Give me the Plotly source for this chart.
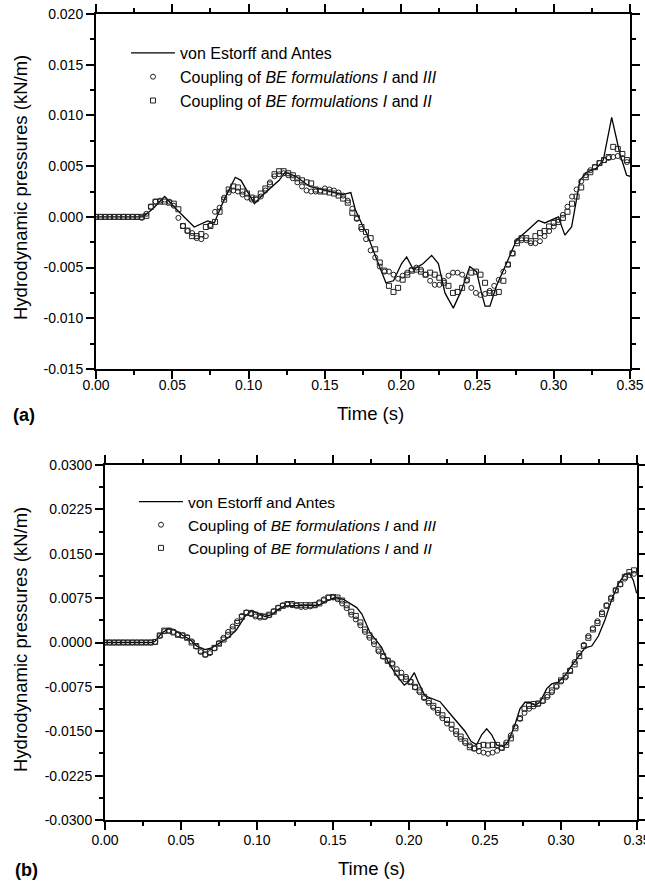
import plotly.graph_objects as go

W, H = 645, 883
FONT = "Liberation Sans, Arial, sans-serif"

# sample times of the BE solutions (s)
T = [round(0.003 * i, 3) for i in range(117)]

# panel (a), pressures in 1e-3 kN/m
TOP_CIRCLES_E3 = [
    0, 0, 0, 0, 0, 0, 0, 0, 0, 0, -0.1, 0.3, 1.0, 1.5, 1.6, 1.7, 1.5, 1.1, -0.1, -0.9,
    -1.4, -1.6, -2.1, -2.2, -1.9, -0.8, 0.5, 0.9, 1.9, 2.4, 2.6, 2.5, 2.2, 1.9, 1.7, 1.7,
    2.0, 2.6, 3.4, 4.0, 4.2, 4.3, 4.1, 3.8, 3.4, 3.0, 2.6, 2.5, 2.5, 2.6, 2.8, 2.7, 2.6,
    2.4, 2.1, 1.6, 0.8, -0.2, -1.2, -2.2, -3.3, -4.0, -4.9, -5.4, -5.4, -5.7, -6.1, -5.8,
    -5.5, -5.2, -5.0, -5.2, -5.7, -6.3, -6.7, -6.7, -6.3, -5.8, -5.5, -5.5, -5.7, -6.3,
    -7.0, -7.5, -7.7, -7.6, -7.3, -6.8, -6.2, -5.4, -4.7, -3.6, -2.4, -2.3, -2.3, -2.6,
    -2.6, -2.4, -1.9, -1.4, -0.95, -0.3, 0.2, 1.0, 2.0, 2.7, 3.5, 4.1, 4.6, 4.9, 5.3, 5.6,
    5.8, 5.9, 6.0, 5.8, 5.4,
]
TOP_SQUARES_E3 = [
    0, 0, 0, 0, 0, 0, 0, 0, 0, 0, 0, 0.1, 1.0, 1.5, 1.5, 1.5, 1.4, 1.3, 0.75, -0.9,
    -1.35, -1.9, -1.9, -1.7, -1.0, -0.9, -0.5, 0.5, 1.7, 2.7, 3.0, 2.9, 2.5, 2.3, 1.9, 1.8,
    2.3, 2.8, 3.2, 4.2, 4.5, 4.5, 4.3, 4.1, 3.8, 3.6, 3.4, 3.3, 2.7, 2.5, 2.5, 2.4, 2.3,
    2.1, 1.8, 1.4, 0.4, -0.1, -1.0, -1.5, -2.1, -3.2, -4.5, -5.3, -6.8, -7.4, -7.0, -6.2,
    -5.7, -5.3, -5.2, -5.4, -5.7, -5.5, -5.7, -6.0, -6.5, -6.8, -7.5, -7.4, -7.0, -6.2,
    -5.5, -5.4, -5.7, -6.5, -7.5, -7.5, -7.4, -6.3, -4.7, -3.6, -2.6, -2.1, -2.1, -2.4,
    -1.9, -1.6, -1.4, -0.95, -0.6, -0.5, -0.1, 0.5, 1.3, 2.0, 2.9, 3.9, 4.4, 4.9, 5.3, 5.6,
    5.9, 6.9, 6.7, 6.2, 5.6,
]
TOP_REF_T = [
    0.0, 0.031, 0.0376, 0.045, 0.052, 0.0644, 0.0732, 0.0775, 0.084, 0.0913, 0.095, 0.1038,
    0.109, 0.120, 0.124, 0.131, 0.140, 0.153, 0.1616, 0.167, 0.170, 0.175, 0.1774, 0.184,
    0.190, 0.195, 0.2003, 0.2036, 0.208, 0.2145, 0.220, 0.2244, 0.2287, 0.2342, 0.2396,
    0.245, 0.2494, 0.2527, 0.255, 0.2582, 0.2625, 0.269, 0.2757, 0.282, 0.2899, 0.2942,
    0.303, 0.3073, 0.3117, 0.3172, 0.3216, 0.3281, 0.3325, 0.338, 0.3434, 0.3478, 0.35,
]
TOP_REF_E3 = [
    0, 0, 0.85, 2.0, 0.85, -1.0, -0.4, -0.6, 1.7, 3.9, 3.6, 1.3,
    2.1, 3.6, 4.4, 4.0, 3.0, 2.5, 2.2, 2.4, 0.7, -0.95, -1.6, -4.2,
    -6.5, -6.3, -4.6, -3.95, -5.2, -4.6, -3.8, -4.6, -7.5, -9.0, -7.2,
    -4.9, -5.4, -7.5, -8.8, -8.8, -6.8, -4.6, -2.25, -1.45, -0.35, -0.6,
    0.0, -1.8, -1.0, 3.6, 4.4, 4.8, 5.6, 9.8, 6.2, 4.1, 4.0,
]

# panel (b), pressures in 1e-3 kN/m
BOT_CIRCLES_E3 = [
    0, 0, 0, 0, 0, 0, 0, 0, 0, 0, 0, 0.1, 1.1, 1.9, 2.0, 1.8, 1.4, 1.2, 0.9, 0.2,
    -0.7, -1.6, -2.1, -1.8, -1.0, -0.1, 0.8, 1.8, 2.7, 3.6, 4.5, 5.1, 4.8, 4.4, 4.2, 4.3,
    4.6, 5.3, 5.9, 6.3, 6.4, 6.3, 6.2, 6.0, 6.0, 6.1, 6.4, 6.8, 7.3, 7.6, 7.6, 7.3, 6.6,
    5.8, 4.7, 3.9, 2.9, 1.8, 0.8, -0.3, -1.5, -2.4, -3.0, -3.5, -4.5, -5.1, -5.8, -6.6,
    -7.6, -8.4, -9.4, -10.2, -11.0, -11.9, -12.8, -13.7, -14.6, -15.5, -16.3, -17.0,
    -17.4, -17.9, -18.4, -18.6, -18.8, -18.6, -18.3, -17.8, -16.9, -15.7, -14.2, -12.9,
    -11.9, -11.2, -10.8, -10.4, -9.9, -9.2, -8.4, -7.5, -6.6, -5.9, -4.7, -3.3, -1.8,
    -0.4, 1.1, 2.4, 3.6, 5.1, 6.3, 7.6, 8.8, 9.8, 10.8, 11.4, 11.6,
]
BOT_SQUARES_E3 = [
    0, 0, 0, 0, 0, 0, 0, 0, 0, 0, 0, 0.1, 1.2, 2.0, 2.0, 1.7, 1.3, 1.2, 0.8, 0.0,
    -0.6, -1.4, -2.0, -1.6, -0.9, -0.2, 0.5, 1.3, 2.2, 3.3, 4.3, 5.0, 5.0, 4.7, 4.5, 4.4,
    4.7, 5.2, 5.8, 6.2, 6.5, 6.5, 6.3, 6.3, 6.3, 6.3, 6.3, 6.6, 7.1, 7.6, 7.7, 7.6, 7.1,
    6.3, 5.2, 4.5, 3.4, 2.2, 1.2, 0.2, -1.2, -2.3, -3.1, -3.7, -5.1, -5.9, -6.2, -6.7,
    -7.5, -8.1, -9.2, -9.9, -10.7, -11.4, -12.3, -13.1, -13.9, -15.0, -15.9, -16.7,
    -17.7, -17.9, -17.5, -17.3, -17.4, -17.3, -17.3, -17.8, -17.3, -16.2, -14.5, -12.8,
    -11.2, -10.7, -10.4, -10.3, -9.8, -8.9, -8.1, -7.3, -6.4, -5.6, -4.8, -3.7, -2.3,
    -0.6, 0.8, 2.2, 3.3, 4.8, 6.2, 7.4, 8.8, 9.9, 11.1, 11.9, 12.2,
]
BOT_REF_T = [
    0.0, 0.031, 0.0329, 0.0373, 0.0417, 0.045, 0.0504, 0.0559, 0.0603, 0.0658, 0.0702,
    0.0757, 0.0811, 0.0866, 0.0921, 0.0965, 0.1009, 0.1053, 0.1096, 0.114, 0.1184, 0.125,
    0.1338, 0.1404, 0.1458, 0.1513, 0.1568, 0.1612, 0.1656, 0.169, 0.1711, 0.1743, 0.1776,
    0.182, 0.1864, 0.1919, 0.1969, 0.1996, 0.2035, 0.2061, 0.2105, 0.216, 0.2204, 0.2259,
    0.2325, 0.2368, 0.2408, 0.2445, 0.2478, 0.2511, 0.2544, 0.2577, 0.2621, 0.2654,
    0.2697, 0.273, 0.2763, 0.2796, 0.2829, 0.2862, 0.2906, 0.2939, 0.2982, 0.3026, 0.307,
    0.3114, 0.3158, 0.3202, 0.3246, 0.3289, 0.3333, 0.3377, 0.3421, 0.3454, 0.3476, 0.3498,
]
BOT_REF_E3 = [
    0, 0, 0.2, 1.6, 2.3, 2.2, 1.3, 0.5, -0.6, -1.2, -0.9,
    -0.1, 0.8, 2.2, 4.4, 5.4, 4.9, 4.4, 4.7, 5.6, 6.2, 6.2,
    6.3, 6.3, 7.0, 7.6, 7.3, 6.6, 5.9, 4.8, 3.6, 1.7, 0.6,
    -0.8, -3.4, -5.6, -7.2, -6.7, -5.1, -6.7, -9.0, -9.5, -10.0, -11.7,
    -13.7, -15.0, -16.7, -17.3, -15.6, -14.6, -15.6, -17.3, -17.6, -16.7,
    -13.9, -11.2, -10.1, -10.1, -10.6, -10.1, -7.8, -7.0, -6.7, -5.6, -3.9,
    -2.3, -0.9, -0.6, 1.1, 3.8, 7.2, 9.9, 11.6, 11.6, 10.5, 8.3,
]

X_TICKS = [0.0, 0.05, 0.10, 0.15, 0.20, 0.25, 0.30, 0.35]
X_LABELS = ["0.00", "0.05", "0.10", "0.15", "0.20", "0.25", "0.30", "0.35"]
TOP_Y_TICKS = [-0.015, -0.010, -0.005, 0.0, 0.005, 0.010, 0.015, 0.020]
TOP_Y_LABELS = ["-0.015", "-0.010", "-0.005", "0.000", "0.005", "0.010", "0.015", "0.020"]
BOT_Y_TICKS = [-0.03, -0.0225, -0.015, -0.0075, 0.0, 0.0075, 0.015, 0.0225, 0.03]
BOT_Y_LABELS = ["-0.0300", "-0.0225", "-0.0150", "-0.0075", "0.0000",
                "0.0075", "0.0150", "0.0225", "0.0300"]

NAMES = [
    "von Estorff and Antes",
    "Coupling of <i>BE formulations I</i> and <i>III</i>",
    "Coupling of <i>BE formulations I</i> and <i>II</i>",
]


def px(x):
    # window pixel -> paper fraction
    return x / W


def py(y):
    return 1 - y / H


def e3(vals):
    return [v / 1000 for v in vals]


def add_panel(fig, ref_t, ref_p, circ, squ, xa, ya, legend):
    fig.add_trace(go.Scatter(
        x=ref_t, y=e3(ref_p), mode="lines", name=NAMES[0],
        line=dict(color="black", width=1.3),
        xaxis=xa, yaxis=ya, legend=legend,
    ))
    fig.add_trace(go.Scatter(
        x=T, y=e3(circ), mode="markers", name=NAMES[1],
        marker=dict(symbol="circle-open", size=5, color="#222", line=dict(width=1)),
        xaxis=xa, yaxis=ya, legend=legend,
    ))
    fig.add_trace(go.Scatter(
        x=T, y=e3(squ), mode="markers", name=NAMES[2],
        marker=dict(symbol="square-open", size=5, color="#222", line=dict(width=1)),
        xaxis=xa, yaxis=ya, legend=legend,
    ))


def axis_style(**kw):
    d = dict(
        showline=True, linewidth=2, linecolor="black", mirror="ticks",
        ticks="outside", ticklen=8, tickwidth=1.5, tickcolor="black",
        showgrid=False, zeroline=False, automargin=False, ticklabeloverflow="allow",
        tickfont=dict(family=FONT, size=14, color="black"),
    )
    d.update(kw)
    return d


def minor(step):
    return dict(ticks="outside", ticklen=4, tickwidth=1.5, tickcolor="black",
                tickmode="linear", tick0=0, dtick=step)


fig = go.Figure()
add_panel(fig, TOP_REF_T, TOP_REF_E3, TOP_CIRCLES_E3, TOP_SQUARES_E3, "x", "y", "legend")
add_panel(fig, BOT_REF_T, BOT_REF_E3, BOT_CIRCLES_E3, BOT_SQUARES_E3, "x2", "y2", "legend2")

legend_font = dict(family=FONT, size=16, color="black")

fig.update_layout(
    width=W, height=H,
    margin=dict(l=0, r=0, t=0, b=0),
    paper_bgcolor="white", plot_bgcolor="white",
    font=dict(family=FONT, color="black"),
    xaxis=axis_style(domain=[px(96), px(630)], anchor="y", range=[0, 0.35],
                     tickmode="array", tickvals=X_TICKS, ticktext=X_LABELS,
                     ticklabelstandoff=-6, minor=minor(0.025)),
    yaxis=axis_style(domain=[py(369), py(14)], anchor="x", range=[-0.015, 0.020],
                     tickmode="array", tickvals=TOP_Y_TICKS, ticktext=TOP_Y_LABELS,
                     minor=minor(0.0025)),
    xaxis2=axis_style(domain=[px(105), px(637)], anchor="y2", range=[0, 0.35],
                      tickmode="array", tickvals=X_TICKS, ticktext=X_LABELS,
                      ticklabelstandoff=-2, minor=minor(0.025)),
    yaxis2=axis_style(domain=[py(820), py(465)], anchor="x2", range=[-0.03, 0.03],
                      tickmode="array", tickvals=BOT_Y_TICKS, ticktext=BOT_Y_LABELS,
                      minor=minor(0.00375)),
    legend=dict(x=px(126), y=py(36), xanchor="left", yanchor="top",
                bgcolor="rgba(0,0,0,0)", font=legend_font, itemwidth=44, tracegroupgap=0),
    legend2=dict(x=px(134), y=py(485), xanchor="left", yanchor="top",
                 bgcolor="rgba(0,0,0,0)", font=dict(family=FONT, size=15.5, color="black"),
                 itemwidth=44, tracegroupgap=0),
    showlegend=True,
)

ann = [
    dict(text="Hydrodynamic pressures (kN/m)", x=px(20), y=py(188), textangle=-90,
         font=dict(size=18.5)),
    dict(text="Hydrodynamic pressures (kN/m)", x=px(20), y=py(640), textangle=-90,
         font=dict(size=18.5)),
    dict(text="Time (s)", x=px(370), y=py(414), font=dict(size=18.5)),
    dict(text="Time (s)", x=px(371), y=py(868), font=dict(size=18.5)),
    dict(text="<b>(a)</b>", x=px(24), y=py(415), font=dict(size=18)),
    dict(text="<b>(b)</b>", x=px(26), y=py(870), font=dict(size=18)),
]
for a in ann:
    fig.add_annotation(xref="paper", yref="paper", showarrow=False,
                       xanchor="center", yanchor="middle", **a)

# drop the default page margin so the 645x883 figure fills the window exactly
fig.write_html(
    "out.html",
    config={"displayModeBar": False},
    post_script="document.body.style.margin='0';document.body.style.overflow='hidden';",
)
